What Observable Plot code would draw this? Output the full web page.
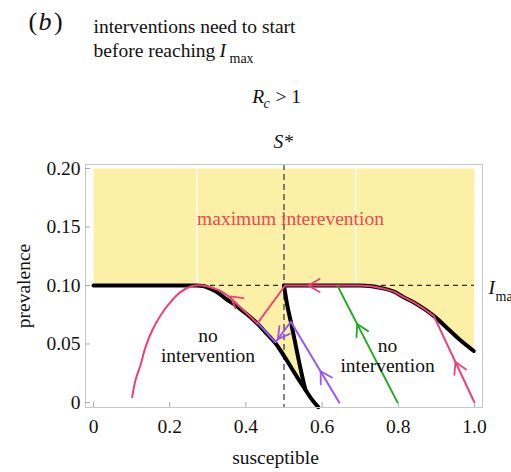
<!DOCTYPE html>
<html><head><meta charset="utf-8">
<script src="https://cdn.jsdelivr.net/npm/d3@7"></script>
<script src="https://cdn.jsdelivr.net/npm/@observablehq/plot@0.6"></script>
<style>html,body{margin:0;padding:0;background:#fff;overflow:hidden}</style>
</head><body><div id="chart"></div>
<script>
// ---- data ----
const xTicks = [0, 0.2, 0.4, 0.6, 0.8, 1.0];
const xTickLabels = ["0", "0.2", "0.4", "0.6", "0.8", "1.0"];
const yTicks = [0, 0.05, 0.10, 0.15, 0.20];
const yTickLabels = ["0", "0.05", "0.10", "0.15", "0.20"];
const Imax = 0.10;
const Sstar = 0.5;
const regionTop = 0.20;
const seams = [0.272, 0.688];

// black boundary curves [S, I]
const blackLeft = [[0,0.1],[0.27,0.1],[0.29,0.0993],[0.307,0.0972],[0.33,0.093],[0.35,0.088],[0.368,0.0843],[0.39,0.0787],[0.412,0.0729],[0.43,0.0675],[0.447,0.0615],[0.462,0.0562],[0.478,0.0505],[0.50,0.0398],[0.52,0.0293],[0.54,0.0188],[0.556,0.011],[0.57,0.004],[0.59,-0.004]];
const blackMiddle = [[0.5,0.1],[0.508,0.084],[0.52,0.066],[0.53,0.050],[0.54,0.034],[0.548,0.022],[0.556,0.011]];
const blackRight = [[0.5,0.1],[0.70,0.1],[0.73,0.0993],[0.76,0.0975],[0.79,0.0945],[0.814,0.090],[0.84,0.0857],[0.87,0.0795],[0.893,0.074],[0.93,0.063],[0.96,0.054],[0.998,0.044]];

// trajectories [S, I]
const pinkLeft = [[0.1015,0.0045],[0.110,0.0188],[0.123,0.0316],[0.1365,0.0473],[0.154,0.0615],[0.176,0.0744],[0.202,0.0857],[0.228,0.0943],[0.259,0.0995],[0.275,0.1002],[0.30,0.0992],[0.33,0.0958],[0.351,0.0915],[0.3945,0.0786],[0.43,0.0675]];
const pinkLink = [[0.43,0.0675],[0.503,0.1]];
const pinkRight = [[1.0,0.0],[0.893,0.074],[0.87,0.0795],[0.84,0.0857],[0.814,0.090],[0.79,0.0945],[0.76,0.0975],[0.73,0.0993],[0.70,0.1],[0.503,0.1]];
const purplePath = [[0.645,0.0],[0.518,0.069],[0.478,0.0515],[0.462,0.0568],[0.447,0.0622],[0.43,0.0682]];
const greenPath = [[0.798,0.0],[0.64,0.1]];

// direction arrows: apex position and direction (data units)
const arrows = [
  {s:0.3596, i:0.0906, ds:-0.03, di:0.0075, c:"pink"},
  {s:0.564, i:0.1, ds:-1, di:0, c:"pink"},
  {s:0.484, i:0.0542, ds:-0.04, di:-0.0175, c:"purple"},
  {s:0.596, i:0.0267, ds:-0.127, di:0.069, c:"purple"},
  {s:0.692, i:0.067, ds:-0.158, di:0.1, c:"green"},
  {s:0.95, i:0.0346, ds:-0.107, di:0.074, c:"pink"}
];

// ---- styles / layout ----
const colors = {pink:"#ef3f7c", purple:"#9a58f0", green:"#23a823"};
const W = 511, H = 472, ML = 85, MR = 29, MT = 164, MB = 65;
const xDom = [-0.021, 1.021], yDom = [-0.0043, 0.2034];
const kx = (W - ML - MR) / (xDom[1] - xDom[0]);
const ky = (H - MT - MB) / (yDom[1] - yDom[0]);
const font = "'Liberation Serif', 'Times New Roman', serif";

const yellowPoly = [[0, regionTop], ...blackLeft.filter(p => p[0] <= 0.556), ...blackMiddle.slice().reverse(), ...blackRight, [1.0, regionTop]];

const chevron = {
  draw(ctx, l) {
    const a = l * Math.sin(Math.PI / 6), b = l * Math.cos(Math.PI / 6);
    ctx.moveTo(-a, b); ctx.lineTo(0, 0); ctx.lineTo(a, b);
  }
};

const T = (txt, o) => Plot.text([txt], {text: d => d, frameAnchor: "top-left", lineAnchor: "bottom", textAnchor: "start", fill: "#111", fontSize: 19.5, fontFamily: font, ...o});
const line = (data, o) => Plot.line(data, {x: d => d[0], y: d => d[1], strokeLinejoin: "round", strokeLinecap: "round", ...o});

const plot = Plot.plot({
  width: W, height: H,
  marginLeft: ML, marginRight: MR, marginTop: MT, marginBottom: MB,
  x: {domain: xDom},
  y: {domain: yDom},
  style: {fontFamily: font, fontSize: "19.5px", color: "#111", background: "#fff", overflow: "hidden"},
  marks: [
    Plot.line(yellowPoly, {x: d => d[0], y: d => d[1], fill: "#fcf0a6", stroke: "none"}),
    Plot.ruleX(seams, {y1: Imax, y2: regionTop, stroke: "#fff", strokeWidth: 1.5}),
    Plot.ruleY([Imax], {x1: 0, x2: 1, stroke: "#333", strokeWidth: 1.2, strokeDasharray: "5,4"}),
    Plot.ruleX([Sstar], {stroke: "#333", strokeWidth: 1.2, strokeDasharray: "6,4"}),
    line(blackLeft, {stroke: "#000", strokeWidth: 4, curve: "monotone-x"}),
    line(blackMiddle, {stroke: "#000", strokeWidth: 4, curve: "monotone-x"}),
    line(blackRight, {stroke: "#000", strokeWidth: 4, curve: "monotone-x"}),
    line(greenPath, {stroke: colors.green, strokeWidth: 1.8}),
    line(purplePath, {stroke: colors.purple, strokeWidth: 2}),
    line(pinkLeft, {stroke: colors.pink, strokeWidth: 2, curve: "catmull-rom"}),
    line(pinkLink, {stroke: colors.pink, strokeWidth: 2}),
    line(pinkRight, {stroke: colors.pink, strokeWidth: 2}),
    Plot.vector(arrows, {x: "s", y: "i", length: 13, anchor: "start", shape: chevron,
      rotate: d => Math.atan2(d.ds * kx, d.di * ky) * 180 / Math.PI,
      stroke: d => colors[d.c], strokeWidth: 1.8}),
    Plot.text(["maximum interevention"], {x: () => 0.517, y: () => 0.1513, text: d => d, textAnchor: "middle", lineAnchor: "bottom", fill: "#f04652", fontSize: 19.5, fontFamily: font}),
    Plot.text(["no\nintervention"], {x: () => 0.3005, y: () => 0.0344, text: d => d, textAnchor: "middle", lineAnchor: "bottom", lineHeight: 1.03, fill: "#111", fontSize: 19.5, fontFamily: font}),
    Plot.text(["no\nintervention"], {x: () => 0.7717, y: () => 0.0259, text: d => d, textAnchor: "middle", lineAnchor: "bottom", lineHeight: 1.03, fill: "#111", fontSize: 19.5, fontFamily: font}),
    Plot.frame({stroke: "#c8c8c8"}),
    Plot.axisX(xTicks, {tickSize: 0, tickPadding: 12, tickFormat: (d, i) => xTickLabels[i], label: null, fontSize: 19.5, fontFamily: font}),
    Plot.axisY(yTicks, {tickSize: 0, tickPadding: 5, tickFormat: (d, i) => yTickLabels[i], label: null, fontSize: 19.5, fontFamily: font}),
    Plot.axisX(xTicks, {tickSize: -5, tickFormat: () => "", label: null, stroke: "#aaa"}),
    Plot.axisY(yTicks, {tickSize: -5, tickFormat: () => "", label: null, stroke: "#aaa"}),
    // titles and labels
    T("(", {dx: -57, dy: -135, fontSize: 26}),
    T("b", {dx: -47, dy: -135, fontSize: 26, fontStyle: "italic"}),
    T(")", {dx: -31.5, dy: -135, fontSize: 26}),
    T("interventions need to start", {dx: 8, dy: -132}),
    T("before reaching", {dx: 8, dy: -108}),
    T("I", {dx: 134, dy: -108, fontStyle: "italic"}),
    T("max", {dx: 144, dy: -102, fontSize: 14}),
    T("R", {dx: 166.7, dy: -62, fontStyle: "italic"}),
    T("c", {dx: 178, dy: -57, fontSize: 14, fontStyle: "italic"}),
    T("> 1", {dx: 190, dy: -62}),
    T("S*", {dx: 188, dy: -17, fontStyle: "italic"}),
    T("I", {dx: 403, dy: 129, fontStyle: "italic"}),
    T("max", {dx: 410, dy: 136, fontSize: 14}),
    T("prevalence", {dx: -55.5, dy: 121.5, rotate: -90, textAnchor: "middle"}),
    T("susceptible", {dx: 190, dy: 299, textAnchor: "middle"})
  ]
});
document.getElementById("chart").appendChild(plot);
</script>
</body></html>
